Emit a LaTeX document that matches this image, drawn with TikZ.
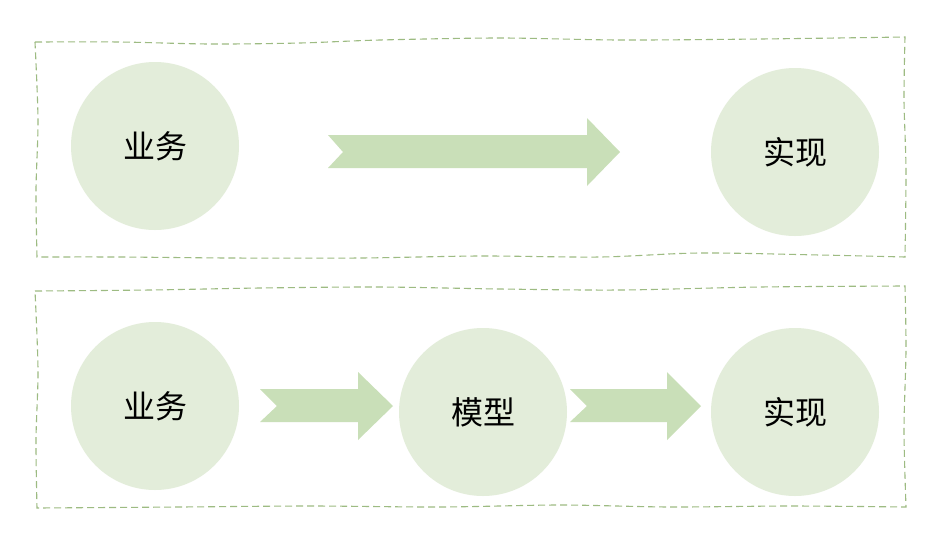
\documentclass[tikz,border=0pt]{standalone}
\usepackage{fontspec}
\newfontfamily\cjk{Noto Sans CJK SC}
\begin{document}
\begin{tikzpicture}[x=1pt,y=-1pt,
  bubble/.style={circle,fill=bubblefill,minimum size=168pt,inner sep=0pt,font=\cjk\fontsize{32}{32}\selectfont},
  frame/.style={draw=framegreen,dashed,dash pattern=on 7pt off 4pt,line width=1.1pt},
  chevron/.style={fill=arrowfill}]
\definecolor{bubblefill}{HTML}{E3EDDA}
\definecolor{arrowfill}{HTML}{C9DFB8}
\definecolor{framegreen}{HTML}{9DBB82}
\useasboundingbox (0,0) rectangle (946,542);
\fill[white] (0,0) rectangle (946,542);

% dashed frames with a slightly hand-drawn edge
\draw[frame] plot[smooth] coordinates {(35,42) (120,42) (210,44) (300,43) (380,40) (500,38) (620,40) (760,39) (905,37)}
  -- plot[smooth] coordinates {(905,37) (904,100) (906,170) (905,257)}
  -- plot[smooth] coordinates {(905,257) (820,255) (700,253) (600,257) (480,256) (360,258) (230,258) (120,257) (37,257)}
  -- plot[smooth] coordinates {(37,257) (36,190) (38,120) (35,42)} -- cycle;
\draw[frame] plot[smooth] coordinates {(35,291) (150,290) (260,288) (380,287) (500,289) (620,290) (760,287) (905,286)}
  -- plot[smooth] coordinates {(905,286) (906,350) (904,430) (906,507)}
  -- plot[smooth] coordinates {(906,507) (790,506) (670,507) (560,505) (440,507) (310,506) (180,507) (37,508)}
  -- plot[smooth] coordinates {(37,508) (36,440) (38,370) (35,291)} -- cycle;

% first row
\node[bubble] (b1) at (155,146) {业务};
\node[bubble] (s1) at (795,152) {实现};
\fill[chevron] (328,135) -- (587,135) -- (587,118) -- (620,152) -- (587,186) -- (587,168) -- (328,168) -- (343,152) -- cycle;

% second row
\node[bubble] (b2) at (155,406) {业务};
\node[bubble] (m2) at (483,412) {模型};
\node[bubble] (s2) at (795,412) {实现};
\fill[chevron] (260,389) -- (358,389) -- (358,372) -- (393,406) -- (358,440) -- (358,422) -- (260,422) -- (277,406) -- cycle;
\fill[chevron] (570,389) -- (667,389) -- (667,372) -- (701,406) -- (667,440) -- (667,422) -- (570,422) -- (587,406) -- cycle;
\end{tikzpicture}
\end{document}
